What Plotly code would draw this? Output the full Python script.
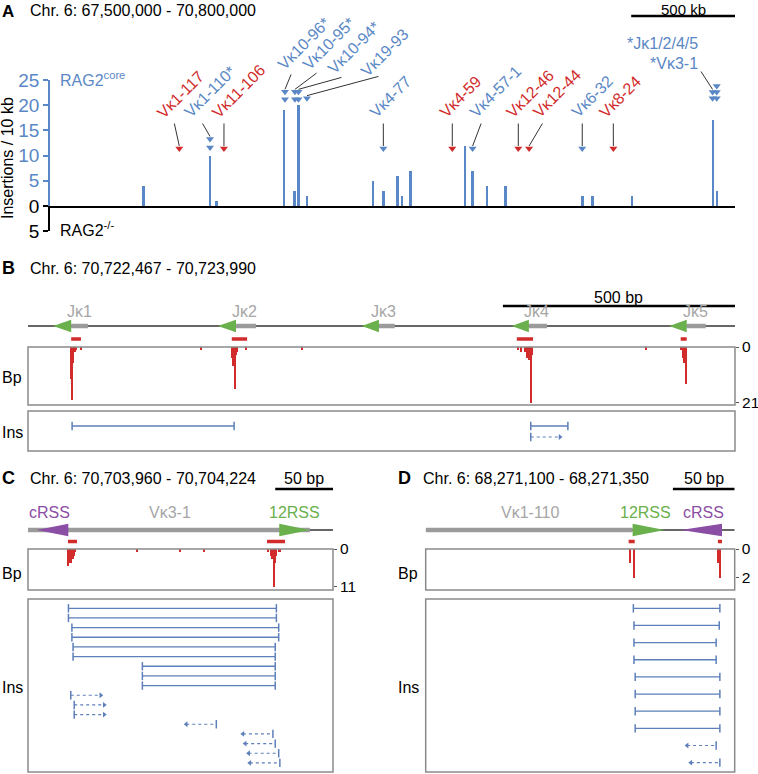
import plotly.graph_objects as go

W, H = 758, 774
def fx(px): return px / W
def fy(py): return 1 - py / H

BLUE = "#5a87c5"
RED = "#d12b2b"
INS_BLUE = "#5d7fba"
GREY_TXT = "#a6a6a6"
GREY_BAR = "#9b9b9b"
GREEN = "#6ab04c"
PURPLE = "#8b4ea5"
BOX = "#8a8a8a"
DARK = "#333333"
FONT = "Arial, Liberation Sans, Helvetica, sans-serif"

# ---------------- Panel A data ----------------
a_start, a_end = 67.5, 70.8          # Mb
a_bar_pos = [67.951, 68.271, 68.303, 68.629, 68.679, 68.698, 68.738, 69.058, 69.108,
             69.176, 69.197, 69.238, 69.499, 69.536, 69.605, 69.695, 70.066, 70.114,
             70.304, 70.696, 70.715]
a_bar_val = [4, 10, 1, 19, 3, 20, 2, 5, 3, 6, 2, 7, 12, 7, 4, 4, 2, 2, 2, 17, 3]
a_gene_names = ["Vκ1-117", "Vκ1-110*", "Vκ11-106", "Vκ10-96*", "Vκ10-95*", "Vκ10-94*",
                "Vκ19-93", "Vκ4-77", "Vκ4-59", "Vκ4-57-1", "Vκ12-46", "Vκ12-44",
                "Vκ6-32", "Vκ8-24", "*Vκ3-1", "*Jκ1/2/4/5"]
a_gene_pos = [68.123, 68.271, 68.338, 68.632, 68.680, 68.697, 68.738, 69.106, 69.438,
              69.536, 69.756, 69.808, 70.064, 70.214, 70.692, 70.712]
a_gene_hit = [False, True, False, True, True, True, True, True, False, True, False,
              False, True, False, True, True]
a_gene_heads = [1, 2, 1, 2, 2, 2, 1, 1, 1, 1, 1, 1, 1, 1, 2, 4]

# ---------------- Panel B data ----------------
b_len = 1523
b_names = ["Jκ1", "Jκ2", "Jκ3", "Jκ4", "Jκ5"]
b_name_pos = [112, 467, 765, 1096, 1437]
b_tri_tip = [54, 409, 719, 1042, 1381]
b_tri_base = [93, 448, 756, 1079, 1419]
b_seg_end = [129, 491, 790, 1118, 1460]
b_rss_start = [93, 439, 1053, 1406]
b_rss_end = [114, 472, 1088, 1419]
b_bp_pos = [93, 96, 98, 101, 103, 114, 373, 470, 590, 440, 442, 445, 447, 449, 451,
            1055, 1063, 1070, 1075, 1079, 1083, 1086, 1331, 1408, 1411, 1414, 1417]
b_bp_val = [12, 20, 6, 2, 1, 1, 1, 1, 1, 4, 7, 5, 16, 3, 2, 1, 2, 2, 4, 5, 21, 3, 1,
            1, 4, 6, 14]
b_ins_start = [95, 1083, 1083]
b_ins_end = [444, 1163, 1146]
b_ins_row = [1, 1, 2]
b_ins_kind = ["both", "both", "fwd"]

# ---------------- Panel C data ----------------
c_len = 264
c_bp_pos = [35, 36, 37, 38, 39, 40, 41, 94, 132, 152, 208, 210, 211, 212, 213, 214, 215, 217, 218]
c_bp_val = [5, 4, 4, 3, 3, 2, 1, 1, 1, 1, 1, 2, 3, 3, 11, 4, 2, 1, 1]
c_ins_start = [35, 35, 38, 38, 39, 39, 99, 99, 99, 37, 40, 40, 137, 186, 188, 191, 192]
c_ins_end = [215, 215, 217, 217, 214, 214, 214, 214, 214, 63, 66, 66, 163, 212, 214, 217, 218]
c_ins_kind = ["both"] * 9 + ["fwd"] * 3 + ["rev"] * 5

# ---------------- Panel D data ----------------
d_len = 250
d_bp_pos = [165, 168, 236, 237, 238]
d_bp_val = [1, 2, 1, 1, 2]
d_ins_start = [168, 168.5, 168.5, 168.5, 169.5, 169.5, 169.5, 169.5, 211.5, 214.5]
d_ins_end = [238, 237.5, 235, 235, 238, 238, 238, 238, 235, 238]
d_ins_kind = ["both"] * 8 + ["rev"] * 2

fig = go.Figure()
ann = []
shapes = []

# ---------- helpers ----------
A_L, A_R, A_Y0, A_PPU = 50, 735, 206, 5.04
def a_px(mb): return A_L + (mb - a_start) / (a_end - a_start) * (A_R - A_L)
def a_py(v): return A_Y0 - v * A_PPU
def a_val(py): return (A_Y0 - py) / A_PPU

def text(x, y, s, size=16, color="black", xanchor="left", yanchor="middle",
         xref="paper", yref="paper", angle=0, bold=False):
    if bold:
        s = "<b>" + s + "</b>"
    ann.append(dict(x=x, y=y, xref=xref, yref=yref, text=s, showarrow=False,
                    xanchor=xanchor, yanchor=yanchor, textangle=angle,
                    font=dict(family=FONT, size=size, color=color)))

# ---------------- Panel A ----------------
fig.add_trace(go.Bar(x=a_bar_pos, y=a_bar_val, width=0.009, marker=dict(color=BLUE, line=dict(width=0)),
                     xaxis="x", yaxis="y", showlegend=False, hoverinfo="skip"))
fig.add_trace(go.Scatter(x=[a_start], y=[-1], mode="markers", marker=dict(opacity=0),
                         xaxis="x", yaxis="y2", showlegend=False, hoverinfo="skip"))

# arrow layout (pixels)
a_head_low = [11.4, 11.6, 11.4, 21.2, 21.2, 21.2, 21.4, 11.4, 11.4, 11.4, 11.4, 11.4, 11.4, 11.4, 21.4, 21.4]
a_head_step_px = [0, 8.5, 0, 7.3, 7.3, 7.3, 0, 0, 0, 0, 0, 0, 0, 0, 6.2, 6.1]
a_tail_px = [(174, 122), (201.7, 122), (224, 122), (291.7, 73), (318, 72), (343, 77), (380, 76),
             (383.3, 122), (452.3, 122), (481.7, 122), (518.3, 122), (543.3, 122), (582.3, 122),
             (613.3, 122), (700, 70), (700, 52)]
a_label_px = [(162.5, 120), (190, 120), (217.5, 120), (283.5, 72), (308.5, 72), (333.5, 76), (366.5, 79),
              (375.5, 119.5), (445.5, 119.5), (475.5, 119.5), (512, 119.5), (538.5, 119.5), (577, 119.5),
              (605.5, 120), (700, 63.3), (700, 44)]

hx = {True: [], False: []}
hy = {True: [], False: []}
for i, name in enumerate(a_gene_names):
    col = BLUE if a_gene_hit[i] else RED
    heads = [a_val(a_py(a_head_low[i]) - k * a_head_step_px[i]) for k in range(a_gene_heads[i])]
    hx[a_gene_hit[i]] += [a_gene_pos[i]] * len(heads)
    hy[a_gene_hit[i]] += heads
    end_py = a_py(max(heads)) - 2.5
    tx, ty = a_tail_px[i]
    ann.append(dict(x=a_gene_pos[i], y=a_val(end_py), xref="x", yref="y", text="",
                    showarrow=True, arrowhead=0, arrowwidth=1, arrowcolor=DARK,
                    ax=tx - a_px(a_gene_pos[i]), ay=ty - end_py, standoff=0, startstandoff=0))
    lx, ly = a_label_px[i]
    if name.startswith("*"):
        text(fx(lx), fy(ly), name, size=16, color=col, xanchor="right", yanchor="middle")
    else:
        text(fx(lx - 11.7), fy(ly + 3.8), name, size=16, color=col, xanchor="left",
             yanchor="bottom", angle=-45)
for hit, col in [(True, BLUE), (False, RED)]:
    fig.add_trace(go.Scatter(x=hx[hit], y=hy[hit], mode="markers", cliponaxis=False,
                             marker=dict(symbol="triangle-down", size=7, color=col, line=dict(width=0)),
                             xaxis="x", yaxis="y", showlegend=False, hoverinfo="skip"))

text(fx(0), fy(0), "A", size=17, bold=True, yanchor="top")
text(fx(28), fy(0), "Chr. 6: 67,500,000 - 70,800,000", size=16, yanchor="top")
text((a_px(a_end - 0.25)) / W, fy(-1), "500 kb", size=15, xanchor="center", yanchor="top")
shapes.append(dict(type="line", xref="x", yref="paper", x0=a_end - 0.5, x1=a_end,
                   y0=fy(16), y1=fy(16), line=dict(color="black", width=2.5)))
text(fx(58), fy(79), "RAG2<sup>core</sup>", size=16, color=BLUE)
text(fx(58), fy(229), "RAG2<sup>-/-</sup>", size=16, color="black")
text(fx(7), fy(158), "Insertions / 10 kb", size=16, xanchor="center", angle=-90)

# ---------------- generic gene/bp/ins helpers ----------------
def line(xa, ya, xs, ys, color, width, dash=None):
    fig.add_trace(go.Scatter(x=xs, y=ys, mode="lines", line=dict(color=color, width=width, dash=dash),
                             xaxis=xa, yaxis=ya, showlegend=False, hoverinfo="skip"))

def tri(xa, ya, tip, base, color, h=0.53):
    fig.add_trace(go.Scatter(x=[tip, base, base, tip], y=[0, h, -h, 0], mode="lines", fill="toself",
                             fillcolor=color, line=dict(width=0, color=color),
                             xaxis=xa, yaxis=ya, showlegend=False, hoverinfo="skip"))

def rss(xa, ya, starts, ends, y):
    xs, ys = [], []
    for s, e in zip(starts, ends):
        xs += [s, e, None]; ys += [y, y, None]
    line(xa, ya, xs, ys, RED, 3.5)

def bp_bars(xa, ya, pos, val, width):
    fig.add_trace(go.Bar(x=pos, y=val, base=0, width=width, marker=dict(color=RED, line=dict(width=0)),
                         xaxis=xa, yaxis=ya, showlegend=False, hoverinfo="skip"))

def ins(xa, ya, starts, ends, kinds, rows=None):
    if rows is None:
        rows = list(range(1, len(starts) + 1))
    sx, sy, dx, dy, cx, cy = [], [], [], [], [], []
    rx, ry, lx, ly = [], [], [], []
    for s, e, k, r in zip(starts, ends, kinds, rows):
        if k == "both":
            sx += [s, e, None]; sy += [r, r, None]
            cx += [s, e]; cy += [r, r]
        elif k == "fwd":
            dx += [s, e, None]; dy += [r, r, None]
            cx += [s]; cy += [r]
            rx += [e]; ry += [r]
        else:
            dx += [s, e, None]; dy += [r, r, None]
            cx += [e]; cy += [r]
            lx += [s]; ly += [r]
    line(xa, ya, sx, sy, INS_BLUE, 1.3)
    if dx:
        line(xa, ya, dx, dy, INS_BLUE, 1.2, "dot")
    fig.add_trace(go.Scatter(x=cx, y=cy, mode="markers", cliponaxis=False,
                             marker=dict(symbol="line-ns", size=6, line=dict(width=1.5, color=INS_BLUE)),
                             xaxis=xa, yaxis=ya, showlegend=False, hoverinfo="skip"))
    for xs_, ys_, sym in [(rx, ry, "triangle-right"), (lx, ly, "triangle-left")]:
        if xs_:
            fig.add_trace(go.Scatter(x=xs_, y=ys_, mode="markers", cliponaxis=False,
                                     marker=dict(symbol=sym, size=5, color=INS_BLUE, line=dict(width=0)),
                                     xaxis=xa, yaxis=ya, showlegend=False, hoverinfo="skip"))

def box(xa, ya):
    shapes.append(dict(type="rect", xref=xa + " domain", yref=ya + " domain", x0=0, x1=1, y0=0, y1=1,
                       line=dict(color=BOX, width=1.5), layer="above"))

# ---------------- Panel B ----------------
line("x2", "y3", [0, b_len], [0, 0], DARK, 1.3)
for t, b, e in zip(b_tri_tip, b_tri_base, b_seg_end):
    line("x2", "y3", [b, e], [0, 0], GREY_BAR, 4.5)
    tri("x2", "y3", t, b, GREEN)
rss("x2", "y3", b_rss_start, b_rss_end, -1.08)
for n, p in zip(b_names, b_name_pos):
    text(p, fy(311), n, size=16, color=GREY_TXT, xanchor="center", xref="x2")
bp_bars("x2", "y4", b_bp_pos, b_bp_val, 3)
ins("x2", "y5", b_ins_start, b_ins_end, b_ins_kind, b_ins_row)
box("x2", "y4"); box("x2", "y5")
text(fx(0), fy(268), "B", size=18, bold=True)
text(fx(28), fy(268), "Chr. 6: 70,722,467 - 70,723,990", size=16)
shapes.append(dict(type="line", xref="x2", yref="paper", x0=b_len - 500, x1=b_len,
                   y0=fy(306), y1=fy(306), line=dict(color="black", width=2.5)))
text(b_len - 250, fy(297), "500 bp", size=16, xanchor="center", xref="x2")
text(fx(0), fy(377), "Bp", size=16)
text(fx(0), fy(432), "Ins", size=16)

# ---------------- Panel C ----------------
line("x3", "y6", [0, c_len], [0, 0], DARK, 1.3)
line("x3", "y6", [0, 244], [0, 0], GREY_BAR, 4.5)
tri("x3", "y6", 7.5, 34.9, PURPLE)
tri("x3", "y6", 244, 217.5, GREEN)
rss("x3", "y6", [34.6, 206.9], [42.4, 222.5], -0.95)
text(19, fy(512), "cRSS", size=16, color=PURPLE, xanchor="center", xref="x3")
text(123, fy(512), "Vκ3-1", size=16, color=GREY_TXT, xanchor="center", xref="x3")
text(231, fy(512), "12RSS", size=16, color=GREEN, xanchor="center", xref="x3")
bp_bars("x3", "y7", c_bp_pos, c_bp_val, 1)
ins("x3", "y8", c_ins_start, c_ins_end, c_ins_kind)
box("x3", "y7"); box("x3", "y8")
text(fx(0), fy(478), "C", size=18, bold=True)
text(fx(28), fy(478), "Chr. 6: 70,703,960 - 70,704,224", size=16)
shapes.append(dict(type="line", xref="x3", yref="paper", x0=c_len - 50, x1=c_len,
                   y0=fy(489), y1=fy(489), line=dict(color="black", width=2.5)))
text(c_len - 25, fy(478), "50 bp", size=16, xanchor="center", xref="x3")
text(fx(0), fy(573), "Bp", size=16)
text(fx(0), fy(687), "Ins", size=16)

# ---------------- Panel D ----------------
line("x4", "y9", [0, d_len], [0, 0], DARK, 1.3)
line("x4", "y9", [0, 167.4], [0, 0], GREY_BAR, 4.5)
tri("x4", "y9", 193.4, 167.4, GREEN)
tri("x4", "y9", 206.4, 239.7, PURPLE)
rss("x4", "y9", [164.2, 236.4], [169.1, 239.7], -0.95)
text(84.7, fy(512), "Vκ1-110", size=16, color=GREY_TXT, xanchor="center", xref="x4")
text(178, fy(512), "12RSS", size=16, color=GREEN, xanchor="center", xref="x4")
text(225, fy(512), "cRSS", size=16, color=PURPLE, xanchor="center", xref="x4")
bp_bars("x4", "y10", d_bp_pos, d_bp_val, 1)
ins("x4", "y11", d_ins_start, d_ins_end, d_ins_kind)
box("x4", "y10"); box("x4", "y11")
text(fx(396), fy(478), "D", size=18, bold=True)
text(fx(420.5), fy(478), "Chr. 6: 68,271,100 - 68,271,350", size=16)
shapes.append(dict(type="line", xref="x4", yref="paper", x0=d_len - 50, x1=d_len,
                   y0=fy(489), y1=fy(489), line=dict(color="black", width=2.5)))
text(d_len - 25, fy(478), "50 bp", size=16, xanchor="center", xref="x4")
text(fx(396), fy(573), "Bp", size=16)
text(fx(396), fy(687), "Ins", size=16)

# ---------------- axes ----------------
hidden = dict(visible=False, showgrid=False, zeroline=False, fixedrange=True, automargin=False)
def bp_axis(top_px, bottom_px, ppu, tickmax, xa):
    return dict(domain=[fy(bottom_px), fy(top_px)], range=[(bottom_px - top_px) / ppu, 0],
                anchor=xa, side="right", tickvals=[0, tickmax], ticks="outside", ticklen=3,
                tickcolor="#555555", tickwidth=1.2, showline=False, showgrid=False, zeroline=False,
                automargin=False, tickfont=dict(family=FONT, size=15.5, color="black"))

layout = dict(
    template="none",
    width=W, height=H, margin=dict(l=0, r=0, t=0, b=0, pad=0), autosize=False,
    paper_bgcolor="white", plot_bgcolor="rgba(0,0,0,0)", showlegend=False,
    bargap=0,
    xaxis=dict(domain=[fx(A_L), fx(A_R)], range=[a_start, a_end], anchor="y", showline=True,
               linecolor="black", linewidth=2, ticks="", showticklabels=False, showgrid=False,
               zeroline=False, automargin=False),
    yaxis=dict(domain=[fy(A_Y0), fy(A_Y0 - 25 * A_PPU)], range=[0, 25], anchor="x",
               tickvals=[5, 10, 15, 20, 25], ticks="outside", ticklen=5, tickwidth=1.5,
               tickcolor=BLUE, showline=True, linecolor=BLUE, linewidth=1.5, showgrid=False,
               zeroline=False, automargin=False, tickfont=dict(family=FONT, size=19, color=BLUE)),
    yaxis2=dict(domain=[fy(A_Y0 + 5 * A_PPU), fy(A_Y0)], range=[-5, 0], anchor="x",
                tickvals=[-5, 0], ticktext=["5", "0"], ticks="outside", ticklen=5, tickwidth=1.5,
                tickcolor="black", showline=True, linecolor="black", linewidth=1.5, showgrid=False,
                zeroline=False, automargin=False, tickfont=dict(family=FONT, size=19, color="black")),
    # B
    xaxis2=dict(domain=[fx(28), fx(735)], range=[0, b_len], anchor="y3", **hidden),
    yaxis3=dict(domain=[fy(345.2), fy(314)], range=[-1.6, 1], anchor="x2", **hidden),
    yaxis4=bp_axis(347, 405, 2.652, 21, "x2"),
    yaxis5=dict(domain=[fy(451), fy(411)], range=[-0.364 + 40 / 11, -0.364], anchor="x2", **hidden),
    # C
    xaxis3=dict(domain=[fx(28), fx(333)], range=[0, c_len], anchor="y6", **hidden),
    yaxis6=dict(domain=[fy(549.2), fy(518)], range=[-1.6, 1], anchor="x3", **hidden),
    yaxis7=bp_axis(549, 590, 3.43, 11, "x3"),
    yaxis8=dict(domain=[fy(772), fy(599)], range=[17.94, 0.04], anchor="x3", **hidden),
    # D
    xaxis4=dict(domain=[fx(425.7), fx(734.7)], range=[0, d_len], anchor="y9", **hidden),
    yaxis9=dict(domain=[fy(549.2), fy(518)], range=[-1.6, 1], anchor="x4", **hidden),
    yaxis10=bp_axis(549, 590, 14.3, 2, "x4"),
    yaxis11=dict(domain=[fy(772), fy(599)], range=[10.546, 0.458], anchor="x4", **hidden),
    annotations=ann, shapes=shapes,
)
fig.update_layout(**layout)
fig.write_html("out.html", config={"displayModeBar": False},
               post_script="document.body.style.margin='0px';")
